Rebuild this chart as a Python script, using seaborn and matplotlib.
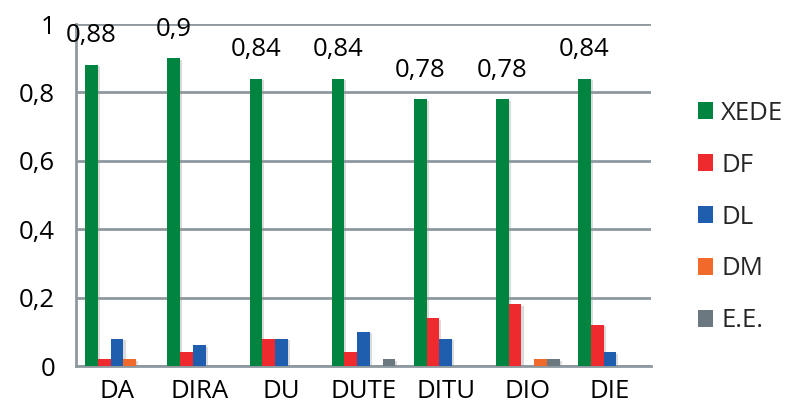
import matplotlib
matplotlib.use("Agg")
import matplotlib.pyplot as plt
import matplotlib.patheffects as pe
from matplotlib.patches import Patch
from matplotlib.ticker import FixedLocator
import seaborn as sns
import pandas as pd

categories = ["DA", "DIRA", "DU", "DUTE", "DITU", "DIO", "DIE"]
series = ["XEDE", "DF", "DL", "DM", "E.E."]
xede = [0.88, 0.90, 0.84, 0.84, 0.78, 0.78, 0.84]
df_vals = [0.02, 0.04, 0.08, 0.04, 0.14, 0.18, 0.12]
dl_vals = [0.08, 0.06, 0.08, 0.10, 0.08, 0.00, 0.04]
dm_vals = [0.02, 0.00, 0.00, 0.00, 0.00, 0.02, 0.00]
ee_vals = [0.00, 0.00, 0.00, 0.02, 0.00, 0.02, 0.00]
xede_labels = ["0,88", "0,9", "0,84", "0,84", "0,78", "0,78", "0,84"]
y_ticks = [0, 0.2, 0.4, 0.6, 0.8, 1.0]
y_tick_labels = ["0", "0,2", "0,4", "0,6", "0,8", "1"]

colors = ["#00843F", "#EE2A2E", "#1F5EAE", "#F26A2B", "#6B7880"]
grid_col = "#8D989F"
FS = 18.5

rows = []
for name, vals in zip(series, [xede, df_vals, dl_vals, dm_vals, ee_vals]):
    for cat, v in zip(categories, vals):
        rows.append({"cat": cat, "serie": name, "val": v})
data = pd.DataFrame(rows)

sns.set_theme(style="white")
plt.rcParams["font.family"] = ["Open Sans", "DejaVu Sans"]

fig = plt.figure(figsize=(7.86, 4.15), dpi=100)
ax = fig.add_axes([76 / 786, 1 - 366 / 415, (651 - 76) / 786, (366 - 24) / 415])

sns.barplot(data=data, x="cat", y="val", hue="serie", order=categories,
            hue_order=series, palette=colors, width=0.775, saturation=1,
            errorbar=None, legend=False, ax=ax, zorder=3)

shadow = [pe.SimplePatchShadow(offset=(1.5, -1.0), shadow_rgbFace="#999999", alpha=0.35), pe.Normal()]
for p in ax.patches:
    p.set_linewidth(0)
    p.set_path_effects(shadow)

# value labels above the XEDE bars
xede_bars = ax.containers[0]
for bar, v, lab in zip(xede_bars, xede, xede_labels):
    cx = bar.get_x() + bar.get_width() / 2
    ax.annotate(lab, (cx, v), xytext=(0, 21), textcoords="offset points",
                ha="center", va="center", fontsize=FS, color="black")

ax.set_xlim(-0.5, len(categories) - 0.5)
ax.set_ylim(0, 1)
ax.set_yticks(y_ticks)
ax.set_yticklabels(y_tick_labels, fontsize=FS)
ax.set_xlabel("")
ax.set_ylabel("")
ax.tick_params(axis="x", which="major", length=0, labelsize=FS, pad=9)
ax.xaxis.set_minor_locator(FixedLocator([i - 0.5 for i in range(len(categories) + 1)]))
ax.tick_params(axis="x", which="minor", length=7, width=2, color=grid_col, direction="out")
ax.tick_params(axis="y", length=7, width=2, color=grid_col, direction="out", pad=8)
for t in ax.get_xticklabels() + ax.get_yticklabels():
    t.set_color("black")

ax.yaxis.grid(True, color=grid_col, linewidth=2, zorder=0)
ax.set_axisbelow(True)
for s in ["top", "right"]:
    ax.spines[s].set_visible(False)
for s in ["left", "bottom"]:
    ax.spines[s].set_color(grid_col)
    ax.spines[s].set_linewidth(2)

handles = [Patch(facecolor=c, edgecolor="none", label=n) for c, n in zip(colors, series)]
fig.legend(handles=handles, loc="center left", bbox_to_anchor=(698 / 786, 1 - 217 / 415),
           frameon=False, fontsize=FS, handlelength=0.6, handleheight=0.6,
           handletextpad=0.3, labelspacing=1.05, borderpad=0, borderaxespad=0)

fig.savefig("out.png", dpi=100)
